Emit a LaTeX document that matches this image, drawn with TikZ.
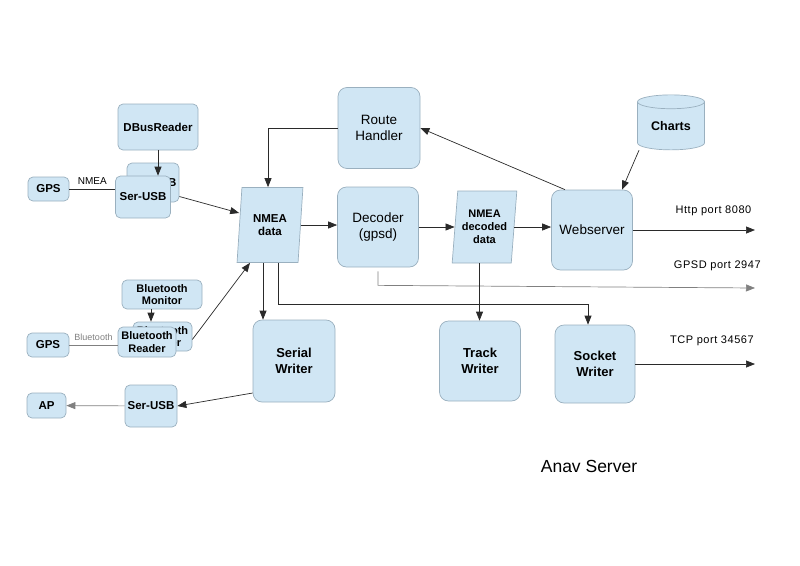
\documentclass[tikz,border=0pt]{standalone}
\usepackage{fontspec}
\setmainfont{Liberation Sans}
\newfontfamily\portfont[LetterSpace=5]{Liberation Sans}
\usetikzlibrary{arrows.meta,shapes.geometric}
\definecolor{boxfill}{HTML}{D0E6F4}
\definecolor{boxline}{HTML}{9AB0BF}
\definecolor{wire}{HTML}{2A2A2A}
\tikzset{
  block/.style={draw=boxline, fill=boxfill, rounded corners=9pt, align=center, inner sep=0pt, font=\fontsize{13.5}{16}\selectfont},
  smallblock/.style={block, rounded corners=5pt, font=\bfseries\fontsize{11.5}{13}\selectfont},
  writer/.style={block, font=\bfseries\fontsize{13}{16}\selectfont},
  datablock/.style={trapezium, trapezium left angle=82, trapezium right angle=98, trapezium stretches=true, draw=boxline, fill=boxfill, align=center, inner sep=0pt, font=\bfseries\fontsize{11.5}{13}\selectfont},
  port/.style={font=\portfont\fontsize{11}{13}\selectfont},
  tag/.style={font=\fontsize{10}{12}\selectfont, inner sep=1pt},
}
\begin{document}
\begin{tikzpicture}[x=1pt, y=-1pt, >={Triangle[length=9pt,width=7pt]}, line width=0.7pt, draw=wire]
\useasboundingbox (0,0) rectangle (800,565);
% serial GPS input
\node[smallblock, minimum width=80, minimum height=46] (dbus) at (158,127) {DBusReader};
\node[smallblock, minimum width=52, minimum height=39] (serusbback) at (153,182.5) {Ser-USB};
\node[smallblock, minimum width=55, minimum height=42] (serusb) at (143,197) {Ser-USB};
\node[smallblock, minimum width=41, minimum height=24] (gps) at (48.5,189) {GPS};
% bluetooth GPS input
\node[smallblock, font=\bfseries\fontsize{11}{12.5}\selectfont, minimum width=80, minimum height=29] (btmon) at (162,294.5) {Bluetooth\\Monitor};
\node[smallblock, font=\bfseries\fontsize{11}{12.5}\selectfont, minimum width=59, minimum height=29] (btreaderback) at (162.5,336.5) {Bluetooth\\Reader};
\node[smallblock, font=\bfseries\fontsize{11}{12.5}\selectfont, minimum width=58, minimum height=30] (btreader) at (147,342) {Bluetooth\\Reader};
\node[smallblock, minimum width=42, minimum height=24] (gpsbt) at (48,345) {GPS};
% autopilot output
\node[smallblock, minimum width=39, minimum height=25] (ap) at (46.5,405.5) {AP};
\node[smallblock, minimum width=52, minimum height=42] (serusbout) at (151,406) {Ser-USB};
% server
\node[datablock, minimum width=66, minimum height=75] (nmea) at (270,225) {NMEA\\data};
\node[block, minimum width=82, minimum height=81] (route) at (379,128) {Route\\Handler};
\node[block, minimum width=81, minimum height=80] (decoder) at (378,227) {Decoder\\(gpsd)};
\node[datablock, font=\bfseries\fontsize{11}{13}\selectfont, minimum width=65, minimum height=72] (decoded) at (484.5,227) {NMEA\\decoded\\data};
\node[block, minimum width=81, minimum height=80] (web) at (592,230) {Webserver};
\node[cylinder, shape border rotate=90, aspect=0.35, draw=boxline, fill=boxfill, inner sep=0pt, minimum width=67, minimum height=55, font=\bfseries\fontsize{12.5}{15}\selectfont] (charts) at (671,126) {Charts};
\node[writer, minimum width=82, minimum height=82] (serialw) at (294,361) {Serial\\Writer};
\node[writer, minimum width=81, minimum height=80] (trackw) at (480,361) {Track\\Writer};
\node[writer, minimum width=80, minimum height=78] (socketw) at (595,364) {Socket\\Writer};
\coordinate (httpend) at (755,230);
\coordinate (gpsdend) at (755,288);
\coordinate (tcpend) at (755,364);
\node[font=\fontsize{17.5}{20}\selectfont] (title) at (589,466) {Anav Server};

\draw (gps) -- (gps -| serusb.west) node[midway,above=3pt,tag] {NMEA};
\draw[->] (dbus) -- (dbus |- serusb.north);
\draw[->] ([yshift=-14pt]serusbback.east) -- ([yshift=12pt]nmea.west);
\draw[gray] (gpsbt) -- (gpsbt -| btreader.west) node[midway,above=3pt,tag,font=\fontsize{9}{11}\selectfont] {Bluetooth};
\draw[->] ([xshift=-11pt]btmon.south) -- ([xshift=-11pt]btmon.south |- btreaderback.north);
\draw[->] ([yshift=-3pt]btreaderback.east) -- ([xshift=-20pt]nmea.south);
\draw[->] (route.west) -| ([xshift=-2pt]nmea.north);
\draw[->] (nmea.east) -- (nmea.east -| decoder.west);
\draw[->] (decoder.east) -- (decoder.east -| decoded.west);
\draw[->] (decoded.east) -- (decoded.east -| web.west);
\draw[->] ([xshift=-27pt]web.north) -- (route.east);
\draw[->] ([xshift=-32pt]charts.south) -- ([xshift=30pt]web.north);
\draw[->] (web.east) -- (httpend) node[pos=0.66,above=11pt,port] {Http port 8080};
\draw[->, gray] ([yshift=-4pt]decoder.south) -- ++(0,14) -- (gpsdend) node[pos=0.9,above=13pt,port,black] {GPSD port 2947};
\draw[->] ([xshift=-7pt]nmea.south) -- ([xshift=-7pt]nmea.south |- serialw.north);
\draw[->] ([xshift=8pt]nmea.south) -- ++(0,41) -| ([xshift=-7pt]socketw.north);
\draw[->] ([xshift=-5pt]decoded.south) -- ([xshift=-5pt]decoded.south |- trackw.north);
\draw[->] (socketw.east) -- (tcpend) node[pos=0.64,above=15pt,port] {TCP port 34567};
\draw[->] ([yshift=-32pt]serialw.west) -- (serusbout.east);
\draw[->, gray] (serusbout) -- (ap);
\end{tikzpicture}
\end{document}
